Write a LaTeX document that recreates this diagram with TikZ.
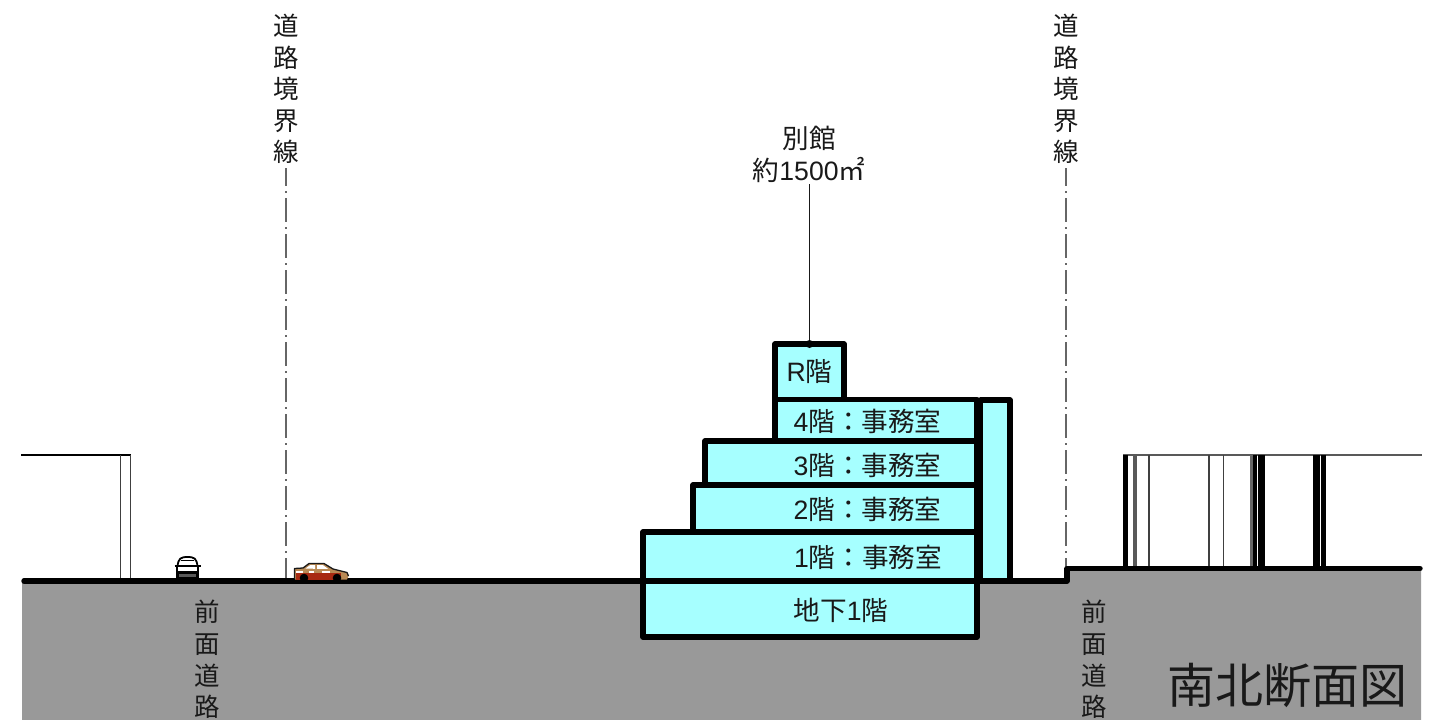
\documentclass[tikz,border=0pt]{standalone}
\usepackage{fontspec}
\setmainfont{Liberation Sans}
\newfontfamily\cjk{Noto Sans CJK JP}
\newcommand{\J}[1]{{\cjk #1}}
\definecolor{floorcyan}{HTML}{A6FFFF}
\definecolor{earth}{HTML}{999999}
\definecolor{tan1}{HTML}{B98A55}
\definecolor{carred}{HTML}{A82A12}
\tikzset{
  floorbox/.style={draw=black,fill=floorcyan,line width=5.4pt,line join=round},
  groundline/.style={draw=black,line width=5.4pt,line cap=round,line join=round},
  boundary/.style={draw=black!60,line width=1.3pt,dash pattern=on 24pt off 5pt on 1.5pt off 5.5pt,dash phase=6pt},
  vtext/.style={align=center,font=\cjk\fontsize{25.5}{31.6}\selectfont,inner sep=0pt,text=black!90},
  flabel/.style={font=\fontsize{26.6}{30}\selectfont,inner sep=0pt,text=black!90},
  wall/.style={draw=black!75,line width=1.9pt},
}
\begin{document}
\begin{tikzpicture}[x=1pt,y=-1pt]
\useasboundingbox (0,0) rectangle (1443,720);
% ground
\fill[earth] (22,581) -- (1066,581) -- (1066,568.5) -- (1421,568.5) -- (1421,720) -- (22,720) -- cycle;
% left building
\draw[draw=black,line width=1.6pt] (21,455) -- (131,455);
\draw[wall] (120.5,455) -- (120.5,580);
\draw[wall] (130.5,455) -- (130.5,580);
% right building
\draw[draw=black!65,line width=1.3pt] (1123,455) -- (1422,455);
\foreach \x/\w/\c in {1125.7/5/black,1134.7/4/black!65,1149/1.2/black!75,1209/1.2/black!75,1223.7/1.2/black!75,1251.5/3.3/black!60,1255/3.5/black,1261.3/6.8/black,1316.5/7/black,1323.5/5/black}
  \draw[draw=\c,line width=\w pt] (\x,455) -- (\x,568);
% boundary lines
\node[vtext] (roadA) at (286,89) {道\\路\\境\\界\\線};
\node[vtext] (roadB) at (1066,89) {道\\路\\境\\界\\線};
\coordinate (footA) at (286,580);
\coordinate (footB) at (1066,568);
\coordinate (topA) at (286,168);
\coordinate (topB) at (1066,168);
\draw[boundary] (topA) -- (footA);
\draw[boundary] (topB) -- (footB);
% ground line
\draw[groundline] (24,581) -- (1067,581) -- (1067,568.5) -- (1420,568.5);
% annexe
\draw[floorbox] (980.5,400) rectangle (1010,581);
% floors
\draw[floorbox] (775,344) rectangle (844,399.5);
\draw[floorbox] (775,399.5) rectangle (977,441);
\draw[floorbox] (705,441) rectangle (977,485);
\draw[floorbox] (693,485) rectangle (977,532);
\draw[floorbox] (643,532) rectangle (977,581);
\draw[floorbox] (643,581) rectangle (977,637);
% floor labels
\node[flabel] (fR) at (809.5,372) {R\J{階}};
\node[flabel] (f4) at (867.5,421) {4\J{階：事務室}};
\node[flabel] (f3) at (867.5,465) {3\J{階：事務室}};
\node[flabel] (f2) at (867.5,509) {2\J{階：事務室}};
\node[flabel] (f1) at (868,557) {1\J{階：事務室}};
\node[flabel] (fB) at (841,610) {\J{地下}1\J{階}};
% annex label and leader
\node[flabel,align=center,font=\fontsize{26.6}{32}\selectfont] (annex) at (809,154) {\J{別館}\\\J{約}1500\J{㎡}};
\coordinate (roofpt) at (809.5,344);
\draw[draw=black!90,line width=1.1pt] (809.5,184) -- (roofpt);
\fill[black] (roofpt) circle (4pt);
% road labels
\node[vtext] (frontA) at (207,659.5) {前\\面\\道\\路};
\node[vtext] (frontB) at (1094,659.5) {前\\面\\道\\路};
% title
\node[font=\cjk\fontsize{48}{50}\selectfont,inner sep=0pt,text=black!90] (title) at (1287.5,685) {南北断面図};
% front car
\begin{scope}[line join=round]
\fill[black] (176,565) rectangle (199,578.5);
\draw[black,line width=1.8pt,fill=white] (177.5,566) .. controls (178.5,558.5) and (180.5,557) .. (187.5,557) .. controls (194.5,557) and (196.5,558.5) .. (197.5,566) -- cycle;
\draw[black,line width=1pt] (181,560) -- (194,560);
\fill[white] (178,567) rectangle (197,570.5);
\fill[black!65] (179,574) rectangle (196,577);
\draw[black,line width=2pt] (174.5,565.5) -- (177.5,565.5);
\draw[black,line width=2pt] (197.5,565.5) -- (201,565.5);
\fill[black] (177,578) rectangle (181,580.5);
\fill[black] (194,578) rectangle (198,580.5);
% side car
\fill[tan1] (294.5,568.5) -- (303,568) -- (309,563.5) -- (324,563.5) -- (333,569) -- (347,572.5) -- (348.5,576) -- (347,579.5) -- (295,579.5) -- cycle;
\draw[black!90,line width=1.3pt] (294.5,579) -- (294.5,568.5) -- (303,568) -- (309,563.5) -- (324,563.5) -- (333,569) -- (347,572.5) -- (348.5,576);
\fill[carred] (296,573) rectangle (341,579.5);
\fill[white] (296,571) rectangle (303,573);
\fill[white] (309,570.8) rectangle (314,572.6);
\fill[white] (322,570.8) rectangle (330,572.6);
\fill[white] (305.5,568.5) -- (310,565.2) -- (315,565.2) -- (315,568.8) -- cycle;
\fill[white] (317,565.2) -- (323,565.2) -- (328,568.8) -- (317,568.8) -- cycle;
\fill[black] (304,578) circle (4.3pt);
\fill[black] (337,578) circle (4.3pt);
\end{scope}
\end{tikzpicture}
\end{document}
